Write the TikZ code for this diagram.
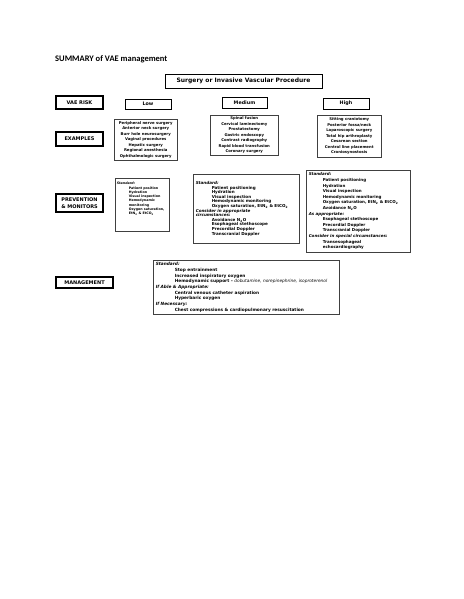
\documentclass[tikz,border=0pt]{standalone}
\usepackage{fontspec}
\setmainfont{DejaVu Sans}
\newfontfamily\titlefont{Carlito}
\newcommand{\ind}[1][14pt]{\hspace*{#1}}
\newcommand{\lbl}[1]{\textit{#1}}

\begin{document}
\begin{tikzpicture}[x=1pt,y=-1pt,
 hdr/.style={draw,line width=1.1pt,align=center,inner sep=0pt,minimum width=47pt,
  font=\fontsize{5}{7.6}\selectfont\bfseries},
 lvl/.style={draw,line width=.6pt,inner sep=0pt,minimum width=46pt,minimum height=11pt,
  font=\fontsize{4.8}{6}\selectfont\bfseries},
 exbox/.style={draw=black!75,line width=.5pt,anchor=north west,align=center,inner sep=0pt,
  font=\fontsize{3.8}{5.5}\selectfont\bfseries},
 cbox/.style={draw=black!75,line width=.5pt,anchor=north west,align=left,inner xsep=2.5pt,inner ysep=2pt}]
\useasboundingbox (0,0) rectangle (463,599);

% title and top level
\node[anchor=base west,inner sep=0pt,font=\titlefont\fontsize{8.5}{10}\selectfont\bfseries] (title) at (55,62)
 {SUMMARY of VAE management};
\node[draw,line width=.7pt,inner sep=0pt,minimum width=157pt,minimum height=14pt,
 font=\fontsize{6}{7}\selectfont\bfseries] (proc) at (243.5,81) {Surgery or Invasive Vascular Procedure};

% row headers
\node[hdr,minimum height=13pt] (risk) at (79.5,102.5) {VAE RISK};
\node[hdr,minimum height=14pt] (examples) at (79.5,139) {EXAMPLES};
\node[hdr,minimum height=18pt] (prevention) at (79.5,203) {PREVENTION\\ \& MONITORS};
\node[hdr,minimum width=57pt,minimum height=11pt] (management) at (84.5,282.5) {MANAGEMENT};

% risk levels
\node[lvl,minimum height=10pt] (low) at (148,104) {Low};
\node[lvl,minimum width=45pt] (medium) at (244.5,102.5) {Medium};
\node[lvl] (high) at (346,103.5) {High};

% examples
\node[exbox,minimum width=63pt,minimum height=41pt] (lowex) at (114,119)
 {Peripheral nerve surgery\\ Anterior neck surgery\\ Burr hole neurosurgery\\ Vaginal procedures\\
  Hepatic surgery\\ Regional anesthesia\\ Ophthalmologic surgery};
\node[exbox,minimum width=68pt,minimum height=40pt] (medex) at (210,115)
 {Spinal fusion\\ Cervical laminectomy\\ Prostatectomy\\ Gastric endoscopy\\
  Contrast radiography\\ Rapid blood transfusion\\ Coronary surgery};
\node[exbox,minimum width=64pt,minimum height=42pt] (highex) at (317,115)
 {Sitting craniotomy\\ Posterior fossa/neck\\ Laparoscopic surgery\\ Total hip arthroplasty\\
  Cesarean section\\ Central line placement\\ Craniosynostosis};

% prevention and monitors
\node[cbox,inner xsep=1.5pt,inner ysep=3.5pt,text width=51pt,text height=3pt,text depth=43pt,
 font=\fontsize{3.3}{4.3}\selectfont\bfseries] (lowprev) at (115,178)
 {\lbl{Standard:}\\ \ind[12pt]Patient position\\ \ind[12pt]Hydration\\ \ind[12pt]Visual inspection\\
  \ind[12pt]Hemodynamic\\ \ind[12pt]monitoring\\ \ind[12pt]Oxygen saturation,\\
  \ind[12pt]EtN\textsubscript{2} \& EtCO\textsubscript{2}};
\node[cbox,text width=101pt,minimum height=69pt,
 font=\fontsize{4.1}{4.6}\selectfont\bfseries] (medprev) at (193,174)
 {\lbl{Standard:}\\ \ind[16pt]Patient positioning\\ \ind[16pt]Hydration\\ \ind[16pt]Visual inspection\\
  \ind[16pt]Hemodynamic monitoring\\ \ind[16pt]Oxygen saturation, EtN\textsubscript{2} \& EtCO\textsubscript{2}\\
  \lbl{Consider in appropriate}\\ \lbl{circumstances:}\\ \ind[16pt]Avoidance N\textsubscript{2}O\\
  \ind[16pt]Esophageal stethoscope\\ \ind[16pt]Precordial Doppler\\ \ind[16pt]Transcranial Doppler};
\node[cbox,text width=99pt,minimum height=82pt,
 font=\fontsize{4.05}{5.6}\selectfont\bfseries] (highprev) at (306,170)
 {\lbl{Standard:}\\ \ind Patient positioning\\ \ind Hydration\\ \ind Visual inspection\\
  \ind Hemodynamic monitoring\\ \ind Oxygen saturation, EtN\textsubscript{2} \& EtCO\textsubscript{2}\\
  \ind Avoidance N\textsubscript{2}O\\ \lbl{As appropriate:}\\ \ind Esophageal stethoscope\\
  \ind Precordial Doppler\\ \ind Transcranial Doppler\\ \lbl{Consider in special circumstances:}\\
  \ind Transesophageal\\ \ind echocardiography};

% management
\node[cbox,text width=181pt,minimum height=54pt,
 font=\fontsize{4.3}{5.7}\selectfont\bfseries] (mgmt) at (153,260)
 {\lbl{Standard:}\\ \ind[19pt]Stop entrainment\\ \ind[19pt]Increased inspiratory oxygen\\
  \ind[19pt]Hemodynamic support -- {\mdseries\itshape dobutamine, norepinephrine, isoproterenol}\\
  \lbl{If Able \& Appropriate:}\\ \ind[19pt]Central venous catheter aspiration\\ \ind[19pt]Hyperbaric oxygen\\
  \lbl{If Necessary:}\\ \ind[19pt]Chest compressions \& cardiopulmonary resuscitation};
\end{tikzpicture}
\end{document}
